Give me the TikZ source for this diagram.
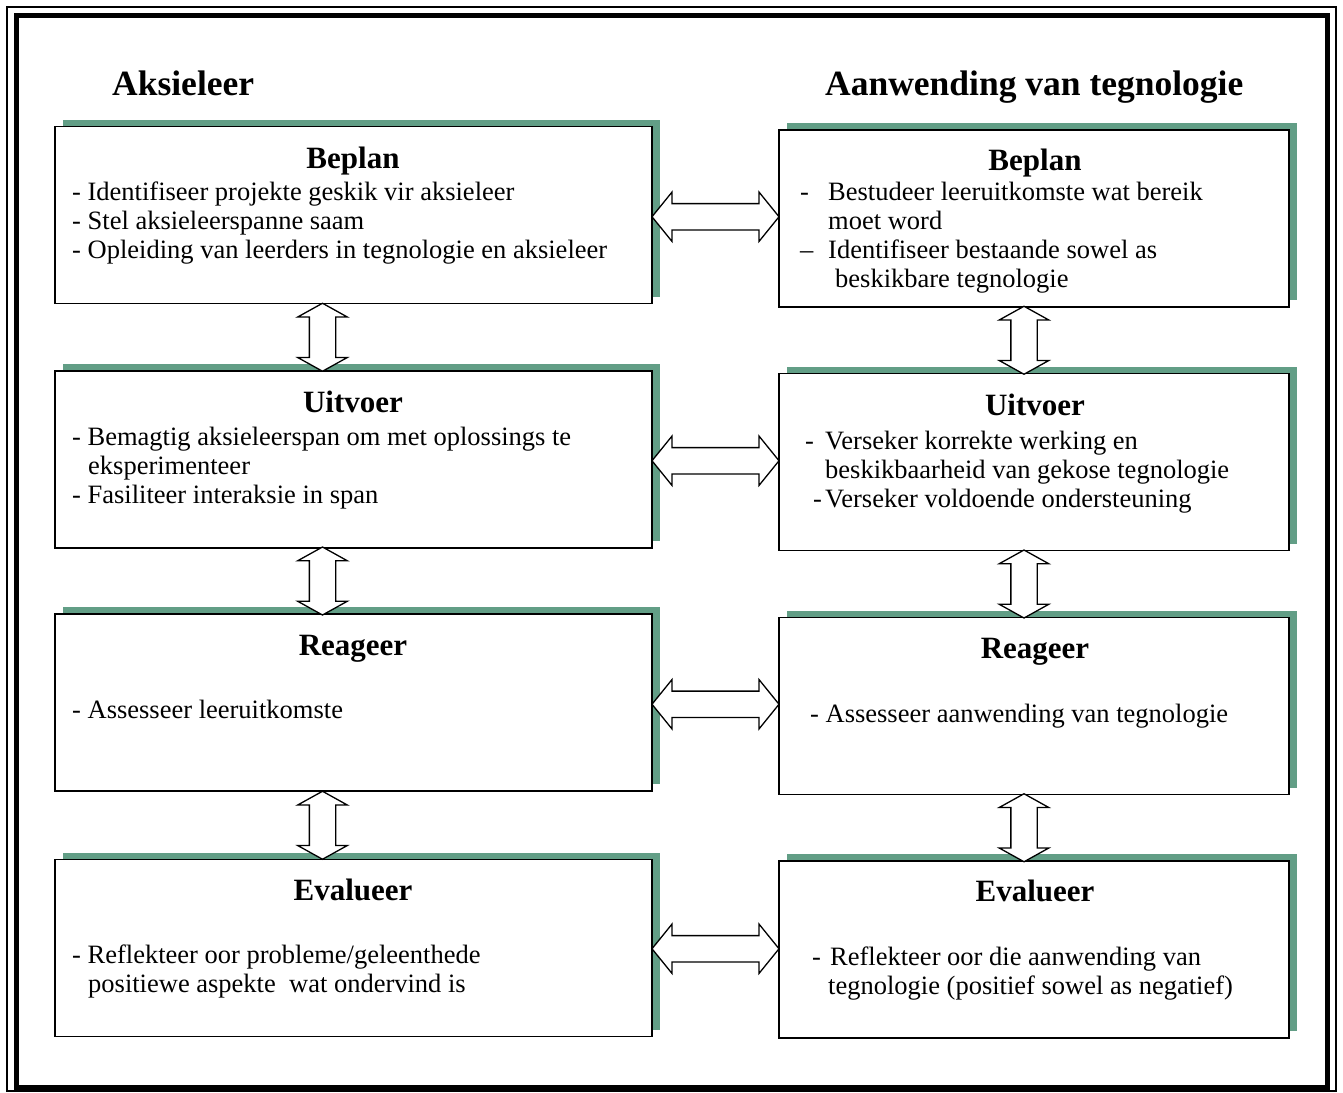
\documentclass[tikz,border=0pt]{standalone}
\usepackage{fontspec}
\setmainfont{Liberation Serif}
\usetikzlibrary{shapes.arrows,shadows,calc}
\definecolor{shadowgreen}{RGB}{98,158,134}
\newcommand{\lead}[2]{\makebox[#1][l]{#2}}
\tikzset{
  stage/.style={draw, fill=white, line width=1.2pt, inner sep=0pt, minimum height=177pt,
    drop shadow={shadow xshift=8pt, shadow yshift=7pt, fill=shadowgreen, opacity=1}},
  lbox/.style={stage, minimum width=597pt},
  rbox/.style={stage, minimum width=510pt},
  hd/.style={font=\fontsize{35.5}{42}\selectfont\bfseries, anchor=base west, inner sep=0pt},
  ttl/.style={font=\fontsize{31}{36}\selectfont\bfseries, anchor=base, inner sep=0pt},
  lst/.style={font=\fontsize{26.5}{29}\selectfont, align=left, anchor=base west, inner sep=0pt},
  twoway/.style={double arrow, draw, fill=white, line width=1.3pt, inner xsep=0pt, inner ysep=12.5pt,
    minimum width=48pt, double arrow head extend=11.5pt, double arrow tip angle=102},
  updown/.style={twoway, rotate=90, minimum height=68pt, double arrow tip angle=122}
}
\begin{document}
\begin{tikzpicture}[x=1pt,y=-1pt]
\useasboundingbox (0,0) rectangle (1343,1092);
% frame
\draw[line width=1.5pt] (7,7) rectangle (1336,1091);
\draw[line width=5pt] (16,15) rectangle (1327,1087);

\node[hd] (hleft) at (112,95) {Aksieleer};
\node[hd] (hright) at (825,95) {Aanwending van tegnologie};

% left column
\node[lbox] (lplan) at (353.5,215) {};
\node[lbox] (luit) at (353.5,459.5) {};
\node[lbox] (lrea) at (353.5,702.5) {};
\node[lbox] (leva) at (353.5,948) {};
% right column
\node[rbox] (rplan) at (1034,218.5) {};
\node[rbox] (ruit) at (1034,462) {};
\node[rbox] (rrea) at (1034,706) {};
\node[rbox] (reva) at (1034,949.5) {};

% texts (multi-line: base = last line)
\node[ttl] (lplant) at (353,168) {Beplan};
\node[lst] (lplanl) at (72,258) {- Identifiseer projekte geskik vir aksieleer\\
  - Stel aksieleerspanne saam\\
  - Opleiding van leerders in tegnologie en aksieleer};
\node[ttl] (luitt) at (353,412) {Uitvoer};
\node[lst] (luitl) at (72,503) {- Bemagtig aksieleerspan om met oplossings te\\
  \hspace*{16pt}eksperimenteer\\
  - Fasiliteer interaksie in span};
\node[ttl] (lreat) at (353,655) {Reageer};
\node[lst] (lreal) at (72,718) {- Assesseer leeruitkomste};
\node[ttl] (levat) at (353,900) {Evalueer};
\node[lst] (leval) at (72,992) {- Reflekteer oor probleme/geleenthede\\
  \hspace*{16pt}positiewe aspekte\ \ wat ondervind is};

\node[ttl] (rplant) at (1035,170) {Beplan};
\node[lst] (rplanl) at (800,287) {\lead{28pt}{-}Bestudeer leeruitkomste wat bereik\\
  \hspace*{28pt}moet word\\
  \lead{28pt}{--}Identifiseer bestaande sowel as\\
  \hspace*{35pt}beskikbare tegnologie};
\node[ttl] (ruitt) at (1035,415) {Uitvoer};
\node[lst] (ruitl) at (805,507) {\lead{20pt}{-}Verseker korrekte werking en\\
  \hspace*{20pt}beskikbaarheid van gekose tegnologie\\
  \hspace*{8pt}\lead{12pt}{-}Verseker voldoende ondersteuning};
\node[ttl] (rreat) at (1035,658) {Reageer};
\node[lst] (rreal) at (810,722) {- Assesseer aanwending van tegnologie};
\node[ttl] (revat) at (1035,901) {Evalueer};
\node[lst] (reval) at (812,994) {\lead{18pt}{-}Reflekteer oor die aanwending van\\
  \hspace*{16pt}tegnologie (positief sowel as negatief)};

% arrows across
\node[twoway, minimum height=127pt] (a1) at ($(lplan.east)!.5!(rplan.west)$) {};
\node[twoway, minimum height=127pt] (a2) at ($(luit.east)!.5!(ruit.west)$) {};
\node[twoway, minimum height=127pt] (a3) at ($(lrea.east)!.5!(rrea.west)$) {};
\node[twoway, minimum height=127pt] (a4) at ($(leva.east)!.5!(reva.west)$) {};
% arrows down
\node[updown] (b1) at ($(lplan.south)!.5!(luit.north)+(-31,0)$) {};
\node[updown] (b2) at ($(luit.south)!.5!(lrea.north)+(-31,0)$) {};
\node[updown] (b3) at ($(lrea.south)!.5!(leva.north)+(-31,0)$) {};
\node[updown] (c1) at ($(rplan.south)!.5!(ruit.north)+(-10,0)$) {};
\node[updown] (c2) at ($(ruit.south)!.5!(rrea.north)+(-10,0)$) {};
\node[updown] (c3) at ($(rrea.south)!.5!(reva.north)+(-10,0)$) {};
\end{tikzpicture}
\end{document}
